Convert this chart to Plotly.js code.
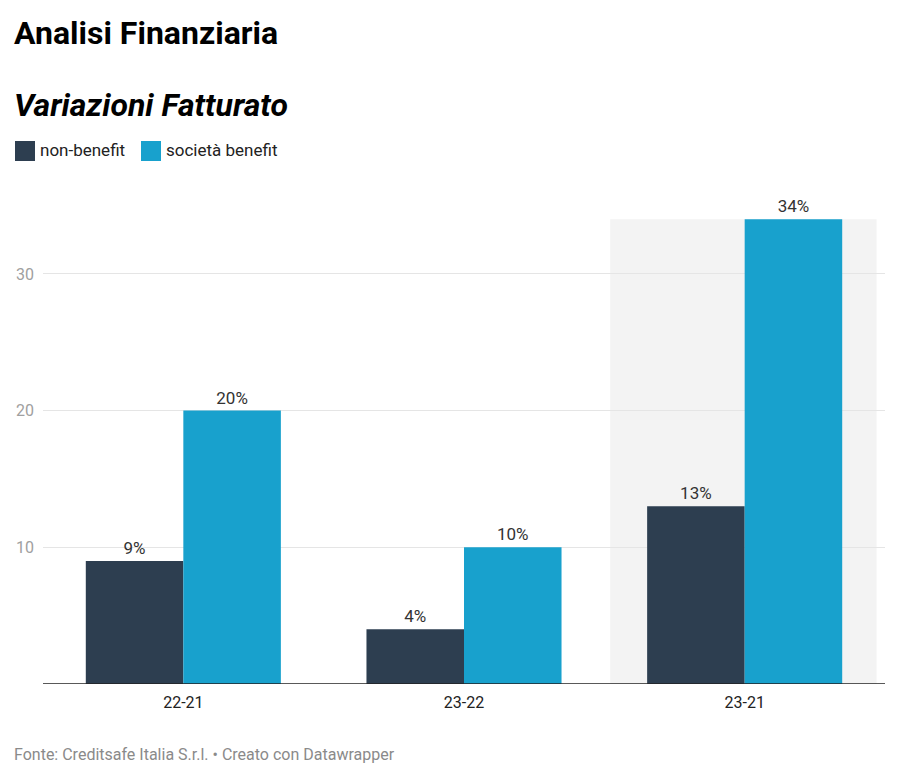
<!DOCTYPE html>
<html>
<head>
<meta charset="utf-8">
<script src="https://cdn.plot.ly/plotly-3.0.1.min.js"></script>
<style>html,body{margin:0;padding:0;background:#fff;}#chart{width:900px;height:780px;}</style>
</head>
<body>
<div id="chart"></div>
<script>
const categories = ["22-21", "23-22", "23-21"];
const seriesNames = ["non-benefit", "società benefit"];
const nonBenefit = [9, 4, 13];
const societaBenefit = [20, 10, 34];
const yTicks = [10, 20, 30];
const colors = ["#2d3e50", "#18a1cd"];

const W = 900, H = 780;
const mL = 43, mR = 15, mT = 190, mB = 96;
const plotW = W - mL - mR;
const px = x => (x - mL) / plotW;
const py = y => (H - mB - y) / (H - mT - mB);

const makeTrace = (name, vals, color) => ({
  type: "bar",
  name: name,
  x: categories,
  y: vals,
  marker: {color: color, line: {width: 0}},
  texttemplate: "%{y}%",
  textposition: "outside",
  textfont: {family: "Roboto", size: 17, color: "#333333"},
  cliponaxis: false,
  hoverinfo: "skip"
});

const data = [
  makeTrace(seriesNames[0], nonBenefit, colors[0]),
  makeTrace(seriesNames[1], societaBenefit, colors[1])
];

const maxVal = Math.max(...societaBenefit, ...nonBenefit);

const layout = {
  width: W, height: H,
  margin: {l: mL, r: mR, t: mT, b: mB, pad: 0},
  paper_bgcolor: "#ffffff",
  plot_bgcolor: "rgba(0,0,0,0)",
  font: {family: "Roboto", color: "#333333"},
  showlegend: false,
  barmode: "group",
  bargap: 0.305,
  bargroupgap: 0,
  xaxis: {
    type: "category",
    range: [-0.5, 2.5],
    showgrid: false,
    zeroline: false,
    showline: false,
    ticks: "",
    ticklabelstandoff: 7,
    tickfont: {family: "Roboto", size: 16, color: "#222222"},
    fixedrange: true
  },
  yaxis: {
    range: [0, 36.14],
    tickvals: yTicks,
    ticktext: yTicks.map(String),
    showgrid: true,
    gridcolor: "#e5e5e5",
    gridwidth: 1,
    zeroline: false,
    showline: false,
    ticks: "",
    ticklabelstandoff: 8,
    tickfont: {family: "Roboto", size: 16, color: "#a0a0a0"},
    fixedrange: true
  },
  shapes: [
    {type: "rect", xref: "x", yref: "y", x0: 1.521, x1: 2.47, y0: 0, y1: maxVal,
     fillcolor: "#f3f3f3", line: {width: 0}, layer: "below"},
    {type: "line", xref: "paper", yref: "y", x0: 0, x1: 1, y0: 0, y1: 0,
     line: {color: "#222222", width: 1.5}, layer: "above"},
    {type: "rect", xref: "paper", yref: "paper", x0: px(15), x1: px(35), y0: py(141), y1: py(161),
     fillcolor: colors[0], line: {width: 0}},
    {type: "rect", xref: "paper", yref: "paper", x0: px(141), x1: px(161), y0: py(141), y1: py(161),
     fillcolor: colors[1], line: {width: 0}}
  ],
  annotations: [
    {text: "<b>Analisi Finanziaria</b>", xref: "paper", yref: "paper", x: px(12), y: py(33),
     xanchor: "left", yanchor: "middle", showarrow: false,
     font: {family: "Roboto", size: 32, color: "#000000"}},
    {text: "<b><i>Variazioni Fatturato</i></b>", xref: "paper", yref: "paper", x: px(12), y: py(105),
     xanchor: "left", yanchor: "middle", showarrow: false,
     font: {family: "Roboto", size: 32, color: "#000000"}},
    {text: seriesNames[0], xref: "paper", yref: "paper", x: px(38), y: py(150),
     xanchor: "left", yanchor: "middle", showarrow: false,
     font: {family: "Roboto", size: 17, color: "#222222"}},
    {text: seriesNames[1], xref: "paper", yref: "paper", x: px(164), y: py(150),
     xanchor: "left", yanchor: "middle", showarrow: false,
     font: {family: "Roboto", size: 17, color: "#222222"}},
    {text: "Fonte: Creditsafe Italia S.r.l. • Creato con Datawrapper", xref: "paper", yref: "paper",
     x: px(12), y: py(754), xanchor: "left", yanchor: "middle", showarrow: false,
     font: {family: "Roboto", size: 16, color: "#8a8a8a"}}
  ]
};

Plotly.newPlot("chart", data, layout, {displayModeBar: false, staticPlot: true});
</script>
</body>
</html>
